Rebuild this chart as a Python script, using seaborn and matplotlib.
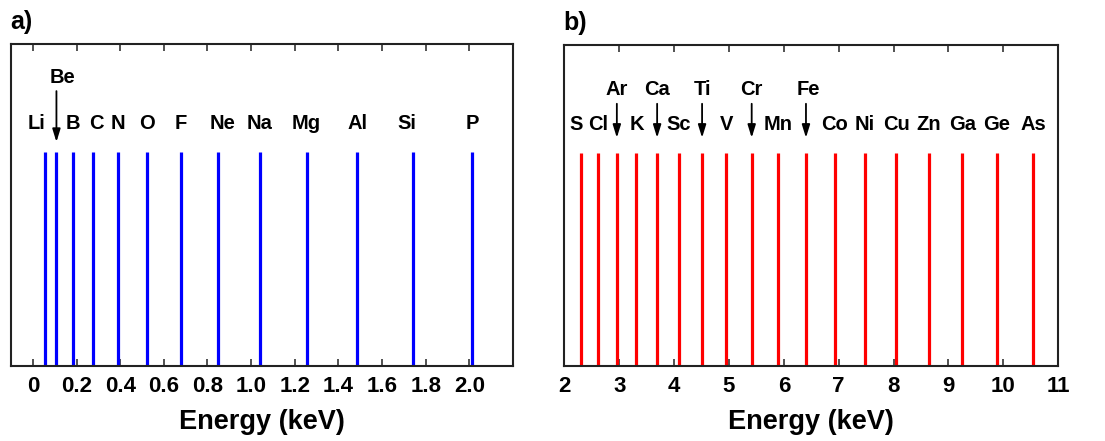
import matplotlib
matplotlib.use("Agg")
import matplotlib.pyplot as plt
import seaborn as sns
import pandas as pd

# K-alpha line energies (keV)
light_elements = ["Li", "Be", "B", "C", "N", "O", "F", "Ne", "Na", "Mg", "Al", "Si", "P"]
light_energies = [0.054, 0.108, 0.183, 0.277, 0.392, 0.525, 0.677, 0.849,
                  1.041, 1.254, 1.486, 1.740, 2.013]
light_arrowed = ["Be"]
light_ticks = [0.0, 0.2, 0.4, 0.6, 0.8, 1.0, 1.2, 1.4, 1.6, 1.8, 2.0]
light_tick_labels = ["0", "0.2", "0.4", "0.6", "0.8", "1.0", "1.2", "1.4", "1.6", "1.8", "2.0"]

heavy_elements = ["S", "Cl", "Ar", "K", "Ca", "Sc", "Ti", "V", "Cr", "Mn", "Fe",
                  "Co", "Ni", "Cu", "Zn", "Ga", "Ge", "As"]
heavy_energies = [2.307, 2.622, 2.957, 3.313, 3.691, 4.090, 4.510, 4.952, 5.414,
                  5.898, 6.403, 6.930, 7.477, 8.047, 8.638, 9.251, 9.886, 10.543]
heavy_arrowed = ["Ar", "Ca", "Ti", "Cr", "Fe"]
heavy_ticks = [2, 3, 4, 5, 6, 7, 8, 9, 10, 11]
heavy_tick_labels = ["2", "3", "4", "5", "6", "7", "8", "9", "10", "11"]

sns.set_theme(style="white")
plt.rcParams["font.family"] = ["Liberation Sans", "DejaVu Sans"]
plt.rcParams["font.weight"] = "bold"
plt.rcParams["text.color"] = "black"
plt.rcParams["axes.labelcolor"] = "black"
plt.rcParams["xtick.color"] = "black"
plt.rcParams["xtick.labelcolor"] = "black"

# small horizontal nudges (pixels) for crowded labels
label_nudge = {"Li": -8, "Be": 6, "C": 3, "Ne": 4, "Si": -6, "S": -5, "Fe": 2}

LINE_H = 0.665        # height of each line, fraction of the axes
ROW_LOW = 0.752       # label row for plain labels
ROW_HIGH_A, ROW_HIGH_B = 0.897, 0.862
ARROW_A = (0.854, 0.696)
ARROW_B = (0.818, 0.712)


def draw_panel(ax, elements, energies, arrowed, color, xlim, ticks, tick_labels,
               row_high, arrow_span, tag):
    df = pd.DataFrame({"element": elements, "energy": energies})
    sns.rugplot(data=df, x="energy", height=LINE_H, color=color, linewidth=2.3,
                expand_margins=False, ax=ax)
    ax.set_xlim(*xlim)
    ax.set_ylim(0, 1)
    trans = ax.get_xaxis_transform()
    for el, e in zip(df["element"], df["energy"]):
        dx = label_nudge.get(el, 0)
        y = row_high if el in arrowed else ROW_LOW
        ax.annotate(el, xy=(e, y), xycoords=trans, xytext=(dx, 0),
                    textcoords="offset pixels", ha="center", va="center",
                    fontsize=14.5, fontweight="bold", color="black")
        if el in arrowed:
            ax.annotate("", xy=(e, arrow_span[1]), xytext=(e, arrow_span[0]),
                        xycoords=trans, textcoords=trans,
                        arrowprops=dict(arrowstyle="-|>,head_length=0.55,head_width=0.17",
                                        color="black", lw=1.3, mutation_scale=14,
                                        shrinkA=0, shrinkB=0))
    ax.set_xticks(ticks)
    ax.set_xticklabels(tick_labels)
    ax.set_yticks([])
    ax.tick_params(axis="x", direction="in", top=True, bottom=True, length=5,
                   width=1.2, color="#333333", labelcolor="black", labelsize=16, pad=7)
    for lab in ax.get_xticklabels():
        lab.set_fontweight("bold")
    for sp in ax.spines.values():
        sp.set_color("#222222")
        sp.set_linewidth(1.5)
        sp.set_visible(True)
    ax.set_xlabel("Energy (keV)", fontsize=19.5, fontweight="bold", labelpad=9,
                  color="black")
    ax.set_ylabel("")
    ax.text(-0.002, 1.047, tag, transform=ax.transAxes, fontsize=18,
            fontweight="bold", ha="left", va="baseline", color="black")


fig = plt.figure(figsize=(11.05, 4.41), dpi=100)
ax_a = fig.add_axes([0.0100, 0.170, 0.4542, 0.730])
ax_b = fig.add_axes([0.5107, 0.170, 0.4470, 0.727])

draw_panel(ax_a, light_elements, light_energies, light_arrowed, "#0000ff",
           (-0.1, 2.2), light_ticks, light_tick_labels, ROW_HIGH_A, ARROW_A, "a)")
draw_panel(ax_b, heavy_elements, heavy_energies, heavy_arrowed, "#ff0000",
           (2, 11), heavy_ticks, heavy_tick_labels, ROW_HIGH_B, ARROW_B, "b)")

fig.savefig("out.png", dpi=100, facecolor="white")
